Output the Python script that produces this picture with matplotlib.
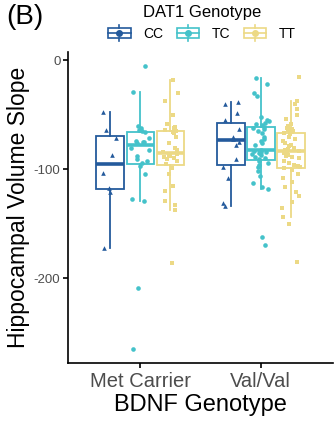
import numpy as np
import matplotlib.pyplot as plt
from matplotlib.patches import Rectangle
from matplotlib.lines import Line2D
from matplotlib.legend_handler import HandlerBase

plt.rcParams['font.family'] = ['Liberation Sans', 'DejaVu Sans']

# groups
bdnf = ['Met Carrier', 'Val/Val']
dat1 = ['CC', 'TC', 'TT']
colors = ['#245a9c', '#44c2ca', '#ecd985']
markers = ['^', 'o', 's']

# hippocampal volume slope
met_cc = [-47, -64, -71, -87, -103, -117, -121, -172]
met_tc = [-5, -29, -60, -62, -64, -65, -66, -71, -74, -75, -75, -76, -80, -82,
          -88, -91, -92, -94, -97, -104, -127, -129, -209, -265]
met_tt = [-18, -30, -37, -50, -58, -61, -62, -64, -65, -66, -67, -70, -76, -80,
          -82, -84, -86, -88, -88, -89, -90, -91, -92, -95, -99, -104, -115,
          -120, -129, -133, -137, -186]
val_cc = [-38, -40, -48, -55, -63, -70, -72, -75, -78, -91, -98, -108, -131, -134]
val_tc = [-16, -22, -30, -33, -52, -55, -56, -57, -58, -59, -61, -62, -63, -65,
          -67, -70, -72, -74, -76, -78, -82, -83, -83, -84, -84, -85, -86, -87,
          -89, -90, -91, -92, -94, -96, -98, -102, -106, -113, -116, -118,
          -162, -170]
val_tt = [-15, -37, -40, -45, -50, -54, -58, -60, -62, -63, -64, -65, -66, -67,
          -68, -70, -72, -74, -76, -78, -79, -80, -81, -82, -83, -84, -85, -86,
          -87, -88, -89, -90, -92, -94, -96, -97, -98, -99, -101, -104, -108,
          -112, -116, -121, -125, -130, -136, -144, -150, -185]

data = [[met_cc, met_tc, met_tt], [val_cc, val_tc, val_tt]]


# legend key: little boxplot with a dot
class BoxKey(HandlerBase):
    def create_artists(self, legend, orig_handle, xdescent, ydescent, width, height, fontsize, trans):
        c = orig_handle.get_color()
        x0 = -xdescent
        y0 = -ydescent
        cx = x0 + width / 2
        cy = y0 + height / 2
        box = Rectangle((x0, y0 + height * 0.18), width, height * 0.64,
                        facecolor='white', edgecolor=c, lw=1.2, transform=trans)
        top = Line2D([cx, cx], [y0 + height * 0.82, y0 + height * 1.05], color=c, lw=1.2, transform=trans)
        bot = Line2D([cx, cx], [y0 - height * 0.05, y0 + height * 0.18], color=c, lw=1.2, transform=trans)
        med = Line2D([x0, x0 + width], [cy, cy], color=c, lw=1.2, transform=trans)
        dot = Line2D([cx], [cy], marker='o', markersize=4, color=c, transform=trans)
        return [box, top, bot, med, dot]


fig = plt.figure(figsize=(3.34, 4.28), dpi=100)
ax = fig.add_axes([0.204, 0.152, 0.793, 0.727])

offsets = [-0.25, 0, 0.25]
rng = np.random.default_rng(3)
for i, grp in enumerate(data):
    for j, vals in enumerate(grp):
        pos = i + 1 + offsets[j]
        c = colors[j]
        ax.boxplot(vals, positions=[pos], widths=0.23, showfliers=False, showcaps=False,
                   patch_artist=True, manage_ticks=False,
                   boxprops=dict(facecolor='white', edgecolor=c, linewidth=1.3),
                   whiskerprops=dict(color=c, linewidth=1.3),
                   medianprops=dict(color=c, linewidth=2.6))
        x = pos + rng.uniform(-0.075, 0.075, len(vals))
        ax.scatter(x, vals, marker=markers[j], s=11, color=c, linewidths=0, zorder=3)

ax.set_xlim(0.4, 2.6)
ax.set_ylim(-278, 8)
ax.set_xticks([1, 2], bdnf)
ax.set_yticks([0, -100, -200], ['0', '-100', '-200'])
ax.spines['top'].set_visible(False)
ax.spines['right'].set_visible(False)
for s in ['left', 'bottom']:
    ax.spines[s].set_linewidth(1.2)
ax.tick_params(axis='y', labelsize=9.5, length=3.5, width=1.2, pad=2, labelcolor='#4d4d4d')
ax.tick_params(axis='x', labelsize=14.5, length=3.5, width=1.2, pad=3, labelcolor='#4d4d4d')

ax.set_xlabel('BDNF Genotype', fontsize=17)
ax.set_ylabel('Hippocampal Volume Slope', fontsize=16.5)
ax.xaxis.set_label_coords(0.5, -0.1)
ax.yaxis.set_label_coords(-0.145, 0.5)

handles = [Line2D([], [], color=c) for c in colors]
fig.legend(handles, dat1, handler_map={Line2D: BoxKey()}, title='DAT1 Genotype',
           loc='upper center', bbox_to_anchor=(0.605, 1.01), ncol=3, frameon=False,
           fontsize=10, title_fontsize=12, handlelength=1.6, handleheight=1.3,
           columnspacing=1.0, handletextpad=0.9, borderpad=0.15, labelspacing=0.4)

fig.text(0.02, 0.99, '(B)', fontsize=20, va='top', ha='left')

fig.savefig('out.png', dpi=100)
